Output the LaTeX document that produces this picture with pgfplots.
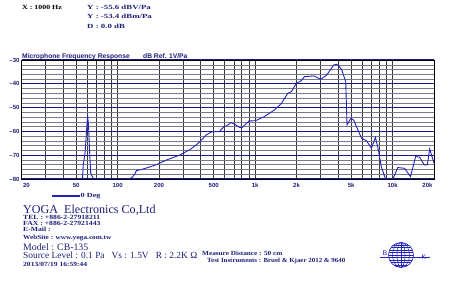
\documentclass[border=0pt]{standalone}
\usepackage{pgfplots}
\pgfplotsset{compat=1.18}
\usepackage{fontspec}
\setmainfont{Liberation Serif}
\newfontfamily\arial{Liberation Sans}
\definecolor{navy}{RGB}{30,30,120}
\definecolor{curve}{RGB}{35,35,185}
\definecolor{vgrid}{RGB}{55,55,60}
\definecolor{mgrid}{RGB}{120,120,140}
\definecolor{hgrid}{RGB}{25,25,120}
\newcommand{\sm}[2][1.25]{\scalebox{#1}[1]{\fontsize{6.3}{7}\selectfont\bfseries #2}}
\begin{document}
\begin{tikzpicture}
\path[use as bounding box, fill=white] (0pt,0pt) rectangle (450pt,288pt);
\begin{axis}[
  at={(21.5pt,109pt)}, anchor=south west,
  scale only axis, width=412.5pt, height=119pt,
  xmode=log, log basis x=10,
  xmin=20, xmax=20000, ymin=-80, ymax=-30,
  xtick={20,30,40,50,60,70,80,90,100,200,300,400,500,600,700,800,900,1000,2000,3000,4000,5000,6000,7000,8000,9000,10000,20000},
  xticklabels={\makebox[0pt][l]{\hspace*{1.5pt}20},,,50,,,,,100,200,,,500,,,,,1k,2k,,,5k,,,,,10k,\makebox[0pt][r]{20k\hspace*{1.5pt}}},
  ytick={-80,-70,-60,-50,-40,-30},
  yticklabels={\textendash80,\textendash70,\textendash60,\textendash50,\textendash40,\textendash30},
  minor y tick num=4,
  major tick length=0pt, minor tick length=0pt,
  xmajorgrids, ymajorgrids, yminorgrids,
  x grid style={vgrid, line width=0.6pt},
  y grid style={hgrid, line width=1.0pt},
  minor y grid style={mgrid, line width=0.45pt},
  axis line style={black, line width=0.8pt},
  tick label style={font=\arial\fontsize{6}{7}\selectfont\bfseries, text=navy},
  xticklabel style={yshift=-0.5pt},
  yticklabel style={xshift=1.5pt},
  clip=true,
]
\addplot[curve, line width=0.9pt] coordinates {
(20,-80) (40,-80) (55.5,-80) (56.3,-74) (58,-69) (60.5,-53) (61.5,-58) (62.5,-68) (63.7,-77.5) (66,-79.4) (67.5,-80)
(100,-80) (122,-80) (128,-79.2) (133,-78) (137,-76.5) (151,-75.9) (170,-75) (191,-74) (227,-72) (282,-70) (315,-68.5) (333,-67.8)
(373,-65.7) (410,-63.5) (440,-61.5) (487,-60.1) (549,-60.1) (594,-58) (625,-57.6) (666,-56.3) (707,-56.9) (770,-58.3) (808,-58.3)
(903,-55.6) (1007,-55.5) (1167,-53.8) (1382,-51) (1556,-48.2) (1727,-44) (1838,-43.3) (1993,-39.8) (2167,-38.7) (2280,-37)
(2680,-36.7) (3000,-38.1) (3320,-36.3) (3730,-32.1) (3920,-31.8) (4100,-32.8) (4270,-34.2) (4560,-39.1) (4660,-57.3) (4960,-54.5)
(5220,-55.3) (5600,-59.5) (5950,-62.9) (6460,-63.9) (7020,-67.1) (7500,-62.5) (7880,-67.8) (8270,-74.8) (8830,-79.6) (9200,-80)
(10050,-80) (10900,-75.2) (12200,-75.5) (13500,-79) (14700,-70.6) (15700,-70.8) (17000,-74.1) (17900,-74) (18600,-67.4) (20000,-73.3)
};
\end{axis}
\begin{scope}[x=1pt,y=1pt]
% header
\node[anchor=base west, inner sep=0] at (22,278.5) {\sm[1.25]{X : 1000 Hz}};
\node[anchor=base west, inner sep=0, text=navy] at (87,278.5) {\sm[1.4]{Y : -55.6 dBV/Pa}};
\node[anchor=base west, inner sep=0, text=navy] at (87,269) {\sm[1.4]{Y : -53.4 dBm/Pa}};
\node[anchor=base west, inner sep=0, text=navy] at (87,259.5) {\sm[1.4]{D : 0.0 dB}};
\node[anchor=base west, inner sep=0, font=\arial\fontsize{6.7}{7}\selectfont\bfseries, text=navy] at (22,229.8) {Microphone Frequency Response};
\node[anchor=base west, inner sep=0, font=\arial\fontsize{6.7}{7}\selectfont\bfseries, text=navy] at (143,229.8) {dB Ref. 1V/Pa};
% legend
\draw[curve, line width=1.6pt] (52,92) -- (80,92);
\node[anchor=base west, inner sep=0, text=navy] at (80.5,90) {\sm[1.3]{0 Deg}};
% footer
\node[anchor=base west, inner sep=0, font=\fontsize{12.1}{13}\selectfont, text=navy] at (23,74.7) {YOGA\ \ Electronics Co,Ltd};
\node[anchor=base west, inner sep=0, text=navy] at (23,68) {\sm[1.22]{TEL : +886-2-27918211}};
\node[anchor=base west, inner sep=0, text=navy] at (23,62) {\sm[1.22]{FAX : +886-2-27921443}};
\node[anchor=base west, inner sep=0, text=navy] at (23,56) {\sm[1.22]{E-Mail :}};
\node[anchor=base west, inner sep=0, text=navy] at (23,48.7) {\sm[1.15]{WebSite : www.yoga.com.tw}};
\node[anchor=base west, inner sep=0, text depth=0pt, font=\fontsize{9.8}{10}\selectfont, text=navy] at (23,37.3) {Model : CB-135};
\node[anchor=base west, inner sep=0, text depth=0pt, font=\fontsize{9.4}{10}\selectfont, text=navy] at (23,29) {Source Level : 0.1 Pa\ \ \ Vs : 1.5V\ \ \ R : 2.2K Ω};
\node[anchor=base west, inner sep=0, text=navy] at (23,21.3) {\sm[1.2]{2013/07/19 16:59:44}};
\node[anchor=base west, inner sep=0, text=navy] at (202,32) {\sm[1.15]{Measure Distance : 50 cm}};
\node[anchor=base west, inner sep=0, text=navy] at (207,25) {\sm[1.1]{Test Instruments : Bruel \& Kjaer 2012 \& 9640}};
% B&K logo
\begin{scope}[shift={(401,33)}]
\draw[curve, line width=0.6pt] (0,0) circle (12.5);
\clip (0,0) circle (12.5);
\foreach \yy in {-10,-7.5,-5,-2.5,0,2.5,5,7.5,10} {\draw[curve, line width=0.7pt] (-13,\yy) -- (13,\yy);}
\draw[curve, line width=0.5pt] (0,0) ellipse (4 and 12.5);
\draw[curve, line width=0.5pt] (0,0) ellipse (8.5 and 12.5);
\draw[curve, line width=0.5pt] (0,-13) -- (0,13);
\end{scope}
\draw[curve, line width=1.2pt] (380,30.3) -- (430,30.3);
\node[anchor=base, inner sep=0, font=\arial\fontsize{7}{8}\selectfont, text=curve] at (385,32) {B};
\node[anchor=base, inner sep=0, font=\arial\fontsize{7}{8}\selectfont, text=curve] at (424,28.5) {K};
\end{scope}
\end{tikzpicture}
\end{document}
